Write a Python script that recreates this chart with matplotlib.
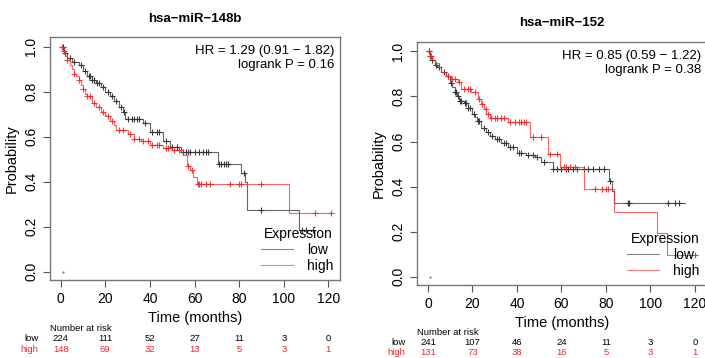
import numpy as np
import matplotlib
matplotlib.use('Agg')
import matplotlib.pyplot as plt
from matplotlib.lines import Line2D
import matplotlib.transforms as mtransforms

plt.rcParams['font.family'] = ['Liberation Sans', 'DejaVu Sans']

# ---- dados ----
tempos_tabela = [0, 20, 40, 60, 80, 100, 120]

# hsa-miR-148b
t_low_148 = [0, 1.5, 3, 5, 8, 10, 12, 14, 16, 18, 20, 22, 24, 26, 28, 29, 37, 40, 46, 49, 54, 70.5, 81, 82.5, 83.5, 107]
s_low_148 = [1, 0.97, 0.95, 0.93, 0.92, 0.89, 0.87, 0.85, 0.84, 0.82, 0.80, 0.78, 0.76, 0.73, 0.71, 0.68, 0.66, 0.62, 0.58, 0.556, 0.53, 0.48, 0.44, 0.40, 0.275, 0.185]
cens_low_148 = [1, 2, 4, 6, 9, 11, 12.5, 13, 14, 15, 16.5, 17, 19, 21, 23, 25, 27, 28.5, 30, 32, 33, 34, 35, 38,
                41, 43, 44, 47, 50, 52, 55, 56, 57, 58, 60, 62, 64, 65, 66, 71, 72, 73, 74, 75, 82, 90, 108, 110, 113]
fim_low_148 = 113

t_high_148 = [0, 1, 2, 3, 4, 5, 6, 7, 8, 9, 10, 11, 12, 14, 16, 18, 20, 22, 24, 25, 30, 33, 36, 40, 46, 50, 55, 56.5, 58, 59.5, 61, 102.5]
s_high_148 = [1, 0.98, 0.96, 0.94, 0.92, 0.90, 0.88, 0.87, 0.85, 0.83, 0.81, 0.79, 0.78, 0.75, 0.73, 0.71, 0.69, 0.67, 0.65, 0.63, 0.61, 0.59, 0.58, 0.565, 0.55, 0.54, 0.52, 0.47, 0.45, 0.42, 0.39, 0.26]
cens_high_148 = [0.5, 1.5, 3, 6, 8, 10, 12, 13, 15, 17, 19, 21, 23, 26, 28, 31, 33, 35, 37, 39, 41, 43, 44, 47,
                 48, 51, 53, 57, 59, 61.5, 62, 63, 65, 67, 76, 80, 81, 90, 114, 121]
fim_high_148 = 121

risco_low_148 = [224, 111, 52, 27, 11, 3, 0]
risco_high_148 = [148, 69, 32, 13, 5, 3, 1]

# hsa-miR-152
t_low_152 = [0, 1, 2, 3, 4, 6, 8, 10, 11, 12, 13, 14, 16, 18, 20, 21, 22, 24, 26, 28, 30, 33, 36, 40, 44, 48, 51, 56, 81.5, 82.5, 83.6]
s_low_152 = [1, 0.98, 0.96, 0.94, 0.93, 0.91, 0.89, 0.86, 0.84, 0.82, 0.80, 0.78, 0.77, 0.75, 0.72, 0.71, 0.69, 0.66, 0.64, 0.625, 0.61, 0.595, 0.575, 0.55, 0.54, 0.53, 0.51, 0.478, 0.426, 0.38, 0.327]
cens_low_152 = [0.5, 1, 2, 3.5, 5, 7, 9, 10.5, 12, 12.5, 13.5, 14.5, 15, 16.5, 17, 18, 19, 20.5, 22.5, 23, 25, 27,
                29, 31, 32, 34, 35, 37, 38, 41, 42, 45, 47, 49, 52, 56, 58, 60, 62, 63, 65, 67, 70, 72, 74, 77,
                79, 82, 90, 90.5, 108, 111, 113]
fim_low_152 = 115.5

t_high_152 = [0, 1, 2, 3, 5, 6, 8, 10.5, 13.5, 15, 19.5, 22.5, 24, 25, 26.3, 27.8, 36, 45.8, 54, 59.3, 70, 83.6, 102.8, 107.3]
s_high_152 = [1, 0.98, 0.96, 0.95, 0.93, 0.907, 0.89, 0.877, 0.862, 0.833, 0.818, 0.789, 0.767, 0.745, 0.722, 0.704, 0.685, 0.618, 0.545, 0.485, 0.389, 0.289, 0.194, 0.096]
cens_high_152 = [0.5, 1.5, 9, 11, 12, 14, 16, 18, 19, 21, 23, 24.5, 26, 27, 28.5, 30, 31, 33, 34, 37, 39, 41,
                 42, 43, 44, 47, 51, 55, 58, 61, 62, 64, 66, 75, 78, 80, 81, 120]
fim_high_152 = 121

risco_low_152 = [241, 107, 46, 24, 11, 3, 0]
risco_high_152 = [131, 73, 38, 16, 5, 3, 1]

cor_low = '#333333'
cor_high = '#ff2020'


def valor_km(tempos, surv, t):
    idx = np.searchsorted(tempos, t, side='right') - 1
    return np.array(surv)[idx]


def curva(ax, tempos, surv, censuras, fim, cor, alpha):
    tt = list(tempos) + [fim]
    ss = list(surv) + [surv[-1]]
    ax.step(tt, ss, where='post', color=cor, lw=0.8, alpha=alpha)
    yc = valor_km(tempos, surv, np.array(censuras))
    ax.plot(censuras, yc, '+', color=cor, ms=5, mew=0.8, alpha=min(1, alpha + 0.2))


def painel(pos, titulo, dados_low, dados_high, hr, p, risco_low, risco_high, y_num):
    ax = fig.add_axes(pos)
    curva(ax, *dados_low, cor_low, 0.75)
    curva(ax, *dados_high, cor_high, 0.7)
    ax.plot([0.9], [0], '.', color='#666666', ms=1)
    ax.set_xlim(-4.8, 125.2)
    ax.set_ylim(-0.037, 1.043)
    ax.set_xticks(tempos_tabela)
    ax.set_yticks([0, 0.2, 0.4, 0.6, 0.8, 1.0])
    ax.set_yticklabels(['0.0', '0.2', '0.4', '0.6', '0.8', '1.0'], rotation=90, va='center')
    ax.tick_params(labelsize=10, length=5, width=0.8, color='#555555')
    for s in ax.spines.values():
        s.set_color('#777777')
        s.set_linewidth(1)
    ax.set_xlabel('Time (months)', fontsize=10.5, labelpad=4)
    ax.set_ylabel('Probability', fontsize=10.5, labelpad=4)
    ax.set_title(titulo, fontsize=9.5, fontweight='bold', pad=11)
    ax.text(0.98, 0.965, f'HR = {hr}\nlogrank P = {p}', transform=ax.transAxes,
            ha='right', va='top', fontsize=9.5, linespacing=1.15)
    handles = [Line2D([], [], color=cor_low, lw=0.8, alpha=0.6),
               Line2D([], [], color=cor_high, lw=0.8, alpha=0.6)]
    leg = ax.legend(handles, ['low', 'high'], title='Expression', loc='lower right',
                    bbox_to_anchor=(1.0, 0.0), frameon=False, fontsize=10, title_fontsize=10,
                    handlelength=2.3, handletextpad=1.0, labelspacing=0.15, borderaxespad=0.1)
    leg._legend_box.align = 'right'

    trans = mtransforms.blended_transform_factory(ax.transData, fig.transFigure)
    ax.text(-4.8, y_num[0], 'Number at risk', transform=trans, fontsize=6.8, ha='left', va='center')
    ax.text(-10, y_num[1], 'low', transform=trans, fontsize=6.8, ha='right', va='center')
    ax.text(-10, y_num[2], 'high', transform=trans, fontsize=6.8, ha='right', va='center', color='#ff2020')
    for t, a, b in zip(tempos_tabela, risco_low, risco_high):
        ax.text(t, y_num[1], str(a), transform=trans, fontsize=6.8, ha='center', va='center')
        ax.text(t, y_num[2], str(b), transform=trans, fontsize=6.8, ha='center', va='center', color='#ff2020')
    return ax


fig = plt.figure(figsize=(7.05, 3.58), dpi=100)

painel([0.0709, 0.2179, 0.4113, 0.6788], 'hsa\u2212miR\u2212148b',
       (t_low_148, s_low_148, cens_low_148, fim_low_148),
       (t_high_148, s_high_148, cens_high_148, fim_high_148),
       '1.29 (0.91 \u2212 1.82)', '0.16', risco_low_148, risco_high_148,
       [1 - 328.7 / 358, 1 - 338.7 / 358, 1 - 349 / 358])

painel([0.5919, 0.2039, 0.4103, 0.6796], 'hsa\u2212miR\u2212152',
       (t_low_152, s_low_152, cens_low_152, fim_low_152),
       (t_high_152, s_high_152, cens_high_152, fim_high_152),
       '0.85 (0.59 \u2212 1.22)', '0.38', risco_low_152, risco_high_152,
       [1 - 332.7 / 358, 1 - 342.7 / 358, 1 - 352.7 / 358])

fig.savefig('out.png', dpi=100)
